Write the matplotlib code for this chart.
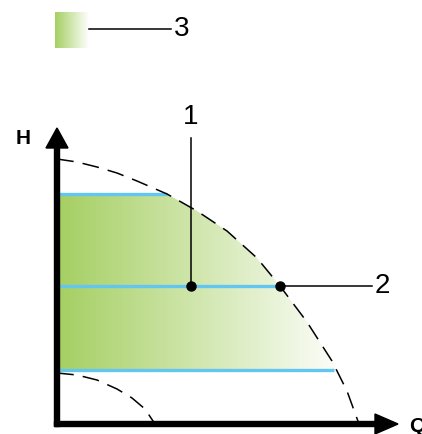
import matplotlib
matplotlib.use("Agg")
import matplotlib.pyplot as plt
import numpy as np
from matplotlib.colors import LinearSegmentedColormap
from matplotlib.patches import Polygon

# pump curves (Q, H), origin at the axes corner
max_curve_q = [0, 20, 40, 60, 80, 110, 140, 170, 200, 223, 250, 275, 290, 302]
max_curve_h = [265, 262, 257, 251, 243, 230, 213, 193, 166, 138, 102, 63, 33, 0]
min_curve_q = [0, 20, 40, 60, 75, 88, 98]
min_curve_h = [51, 49, 44, 35, 26, 15, 0]

# constant-pressure setpoints (blue lines)
setpoint_h = [230, 138, 54]
setpoint_q_end = [110, 223, 277]

# marked operating points
points_q = [134, 223]
points_h = [138, 138]

GREEN = "#a5cf62"
BLUE = "#63c6f0"
cmap = LinearSegmentedColormap.from_list("grad", [GREEN, "white"])
plt.rcParams["font.family"] = ["Liberation Sans", "DejaVu Sans"]

fig = plt.figure(figsize=(4.22, 4.34), dpi=100)
ax = fig.add_axes([0, 0, 1, 1])
ax.set_xlim(-57, 365)
ax.set_ylim(-10, 424)
ax.axis("off")

# gradient control area, clipped to the region under the curve
h_lo, h_hi = setpoint_h[2], setpoint_h[0]
rq = max_curve_q[::-1]
rh = max_curve_h[::-1]
q_hi = np.interp(h_hi, rh, rq)
q_lo = np.interp(h_lo, rh, rq)
inner = [(q, h) for q, h in zip(max_curve_q, max_curve_h) if h_lo < h < h_hi]
verts = [(0, h_lo), (0, h_hi), (q_hi, h_hi)] + inner + [(q_lo, h_lo)]
poly = Polygon(verts, closed=True, facecolor="none", edgecolor="none")
ax.add_patch(poly)
grad = np.linspace(0, 1, 256).reshape(1, -1)
im = ax.imshow(grad, cmap=cmap, extent=(0, 290, h_lo, h_hi), aspect="auto",
               interpolation="bilinear", zorder=1)
im.set_clip_path(poly)

# legend swatch
leg = ax.imshow(grad, cmap=cmap, extent=(-2, 32, 376, 412), aspect="auto",
                interpolation="bilinear", zorder=1)
ax.plot([32, 114], [395, 395], color="black", lw=1.1, zorder=2)
ax.text(117, 395, "3", fontsize=20, ha="left", va="center")

# setpoint lines
for h, qe in zip(setpoint_h, setpoint_q_end):
    ax.plot([0, qe], [h, h], color=BLUE, lw=2.4, solid_capstyle="butt", zorder=3)

# dashed max / min curves
ax.plot(max_curve_q, max_curve_h, color="black", lw=1.1, dashes=(11, 6), zorder=4)
ax.plot(min_curve_q, min_curve_h, color="black", lw=1.1, dashes=(11, 6), zorder=4)

# callouts
ax.plot([points_q[0], points_q[0]], [points_h[0], 286], color="black", lw=1.1, zorder=5)
ax.text(points_q[0], 307, "1", fontsize=20, ha="center", va="center")
ax.plot([points_q[1], 315], [points_h[1], points_h[1]], color="black", lw=1.1, zorder=5)
ax.text(318, points_h[1], "2", fontsize=20, ha="left", va="center")
ax.plot(points_q, points_h, "o", color="black", ms=6.5, zorder=6)

# axes arrows
ax.arrow(0, -2.5, 0, 298.5, width=5, head_width=22, head_length=20,
         length_includes_head=True, color="black", zorder=7)
ax.arrow(-2.5, 0, 343.5, 0, width=5, head_width=20, head_length=23,
         length_includes_head=True, color="black", zorder=7)
ax.text(-34, 286, "H", fontsize=15, fontweight="bold", ha="center", va="center")
ax.text(352, -2, "Q", fontsize=15, fontweight="bold", ha="left", va="center")

fig.savefig("out.png", dpi=100)
